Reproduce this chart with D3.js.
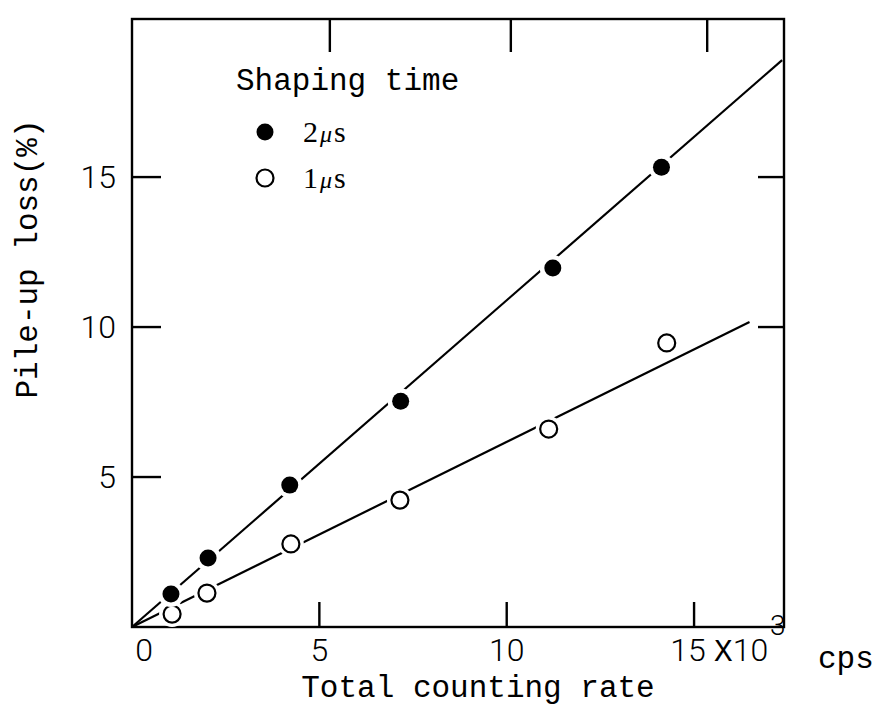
<!DOCTYPE html>
<html>
<head>
<meta charset="utf-8">
<script src="https://cdn.jsdelivr.net/npm/d3@7"></script>
<style>
  html, body { margin: 0; padding: 0; background: #fff; }
  svg { display: block; }
  .mono { font-family: "Liberation Mono", "DejaVu Sans Mono", monospace; }
  .num { font-family: Roboto, "Liberation Sans", sans-serif; font-weight: 300; }
  .serif { font-family: "Liberation Serif", "DejaVu Serif", serif; }
</style>
</head>
<body>
<svg id="chart" width="880" height="717"></svg>
<script>
// Total counting rate (x10^3 cps) and pile-up loss (%)
const rate2us = [1.04, 2.03, 4.21, 7.17, 11.23, 14.13];
const loss2us = [1.1, 2.3, 4.73, 7.53, 11.97, 15.33];
const rate1us = [1.07, 2.0, 4.24, 7.15, 11.12, 14.27];
const loss1us = [0.43, 1.13, 2.77, 4.23, 6.6, 9.47];

// Fitted straight lines: [rate, loss] end points
const fit2us = [[0, 0], [17.35, 18.9]];
const fit1us = [[0, 0], [16.48, 10.17]];

const xTicks = [5, 10, 15];
const topTicks = [5.28, 10.11, 15.35];   // hand-ruled marks along the top edge
const yTicks = [5, 10, 15];
const rightTicks = [10, 15];
const legendItems = [{ lead: "2", unit: "s", filled: true }, { lead: "1", unit: "s", filled: false }];

const W = 880, H = 717;
const frame = { left: 132, right: 784, top: 19, bottom: 627 };

const x = d3.scaleLinear().domain([0, 17.4]).range([frame.left, frame.right]);
const y = d3.scaleLinear().domain([0, 20.27]).range([frame.bottom, frame.top]);

const svg = d3.select("#chart");
svg.append("rect").attr("width", W).attr("height", H).attr("fill", "#fff");

// Frame
svg.append("rect")
  .attr("x", frame.left).attr("y", frame.top)
  .attr("width", frame.right - frame.left).attr("height", frame.bottom - frame.top)
  .attr("fill", "none").attr("stroke", "#000").attr("stroke-width", 2.4);

// Inward ticks on all sides
const tickG = svg.append("g").attr("stroke", "#000").attr("stroke-width", 2.4);
tickG.selectAll(".tb").data(xTicks).join("line")
  .attr("x1", d => x(d)).attr("x2", d => x(d))
  .attr("y1", frame.bottom).attr("y2", frame.bottom - 25);
tickG.selectAll(".tt").data(topTicks).join("line")
  .attr("x1", d => x(d)).attr("x2", d => x(d))
  .attr("y1", frame.top).attr("y2", frame.top + 33);
tickG.selectAll(".tl").data(yTicks).join("line")
  .attr("x1", frame.left).attr("x2", frame.left + 29)
  .attr("y1", d => y(d)).attr("y2", d => y(d));
tickG.selectAll(".tr").data(rightTicks).join("line")
  .attr("x1", frame.right).attr("x2", frame.right - 26)
  .attr("y1", d => y(d)).attr("y2", d => y(d));

// Tick labels
svg.append("g").selectAll("text").data([0, ...xTicks]).join("text")
  .attr("class", "num")
  .attr("x", d => x(d) + (d === 0 ? 12 : d === 15 ? -6 : 0))
  .attr("y", frame.bottom + 34)
  .attr("text-anchor", "middle")
  .attr("font-size", 32)
  .text(d => d);

svg.append("g").selectAll("text").data(yTicks).join("text")
  .attr("class", "num")
  .attr("x", frame.left - 16)
  .attr("y", d => y(d) + 11)
  .attr("text-anchor", "end")
  .attr("font-size", 32)
  .text(d => d);

// Unit annotation after the last x tick: X10^3 cps
const unitX = x(15) + 20;
const unit = svg.append("text").attr("x", unitX).attr("y", frame.bottom + 34).attr("font-size", 32);
unit.append("tspan").attr("class", "mono").attr("font-size", 31).text("X");
unit.append("tspan").attr("class", "num").text("10");
svg.append("text").attr("class", "num")
  .attr("x", unitX + 56).attr("y", frame.bottom + 8)
  .attr("font-size", 28).text("3");
svg.append("text").attr("class", "mono")
  .attr("x", 818).attr("y", frame.bottom + 41)
  .attr("font-size", 31).text("cps");

// Axis titles
svg.append("text").attr("class", "mono")
  .attr("x", (frame.left + frame.right) / 2 + 20).attr("y", 697)
  .attr("text-anchor", "middle").attr("font-size", 31)
  .text("Total counting rate");
svg.append("text").attr("class", "mono")
  .attr("transform", "translate(37,259) rotate(-90)")
  .attr("text-anchor", "middle").attr("font-size", 31)
  .text("Pile-up loss(%)");

// Fit lines
const line = d3.line().x(d => x(d[0])).y(d => y(d[1]));
svg.append("path").datum(fit2us).attr("d", line)
  .attr("fill", "none").attr("stroke", "#000").attr("stroke-width", 2.2);
svg.append("path").datum(fit1us).attr("d", line)
  .attr("fill", "none").attr("stroke", "#000").attr("stroke-width", 2.2);

// Markers with a white clearance ring that breaks the line
const pts2 = rate2us.map((r, i) => [r, loss2us[i]]);
const pts1 = rate1us.map((r, i) => [r, loss1us[i]]);

function markers(data, filled) {
  const g = svg.append("g");
  g.selectAll(".halo").data(data).join("circle")
    .attr("cx", d => x(d[0])).attr("cy", d => y(d[1]))
    .attr("r", 13).attr("fill", "#fff");
  g.selectAll(".mk").data(data).join("circle")
    .attr("cx", d => x(d[0])).attr("cy", d => y(d[1]))
    .attr("r", 8.5)
    .attr("fill", filled ? "#000" : "#fff")
    .attr("stroke", "#000").attr("stroke-width", filled ? 0 : 2.2);
}
markers(pts1, false);
markers(pts2, true);

// Legend
svg.append("text").attr("class", "mono")
  .attr("x", 236).attr("y", 90).attr("font-size", 31).text("Shaping time");
const leg = svg.append("g").selectAll("g").data(legendItems).join("g")
  .attr("transform", (d, i) => `translate(265,${132 + i * 46})`);
leg.append("circle").attr("r", 8.5)
  .attr("fill", d => d.filled ? "#000" : "#fff")
  .attr("stroke", "#000").attr("stroke-width", d => d.filled ? 0 : 2.2);
const legText = leg.append("text").attr("class", "serif")
  .attr("x", 38).attr("y", 10).attr("font-size", 30);
legText.append("tspan").text(d => d.lead);
legText.append("tspan").attr("font-style", "italic").attr("font-size", 24).attr("dx", 2).text("\u03bc");
legText.append("tspan").attr("dx", 2).text(d => d.unit);
</script>
</body>
</html>
